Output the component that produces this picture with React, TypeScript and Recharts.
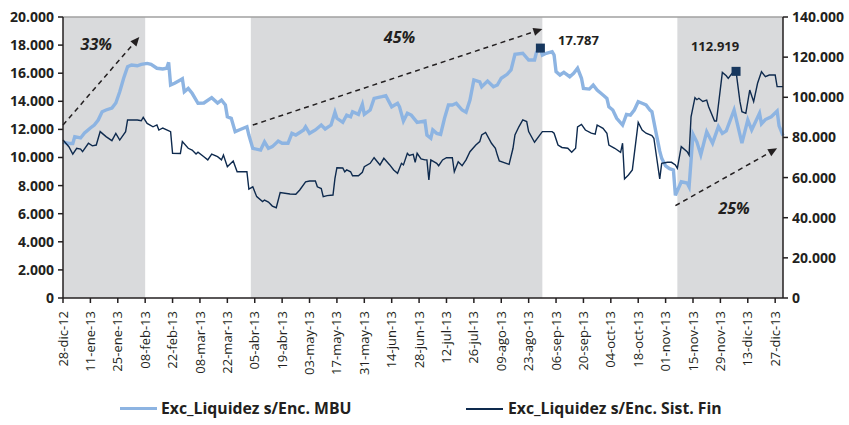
import {
  LineChart,
  Line,
  XAxis,
  YAxis,
  ReferenceArea,
  ReferenceLine,
  ReferenceDot,
} from "recharts";

// días desde 28-dic-12
const tickDays = [0, 14, 28, 42, 56, 70, 84, 98, 112, 126, 140, 154, 168, 182, 196, 210, 224, 238, 252, 266, 280, 294, 308, 322, 336, 350, 364];
const tickLabels = [
  "28-dic-12", "11-ene-13", "25-ene-13", "08-feb-13", "22-feb-13", "08-mar-13", "22-mar-13",
  "05-abr-13", "19-abr-13", "03-may-13", "17-may-13", "31-may-13", "14-jun-13", "28-jun-13",
  "12-jul-13", "26-jul-13", "09-ago-13", "23-ago-13", "06-sep-13", "20-sep-13", "04-oct-13",
  "18-oct-13", "01-nov-13", "15-nov-13", "29-nov-13", "13-dic-13", "27-dic-13",
];
const leftTicks = [0, 2000, 4000, 6000, 8000, 10000, 12000, 14000, 16000, 18000, 20000];
const rightTicks = [0, 20000, 40000, 60000, 80000, 100000, 120000, 140000];

// Exc_Liquidez s/Enc. MBU (eje izq.)
const mbuDays = [
  0, 3, 5, 6, 9, 11, 14, 16, 18, 20, 22, 25, 27, 29, 31, 33, 35, 38, 40, 43, 45, 48, 51, 53, 54, 55, 57, 60, 61, 62,
  64, 66, 69, 72, 76, 79, 81, 83, 84, 86, 88, 90, 94, 95, 97, 101, 103, 105, 107, 110, 112, 115, 117, 119, 123, 124,
  126, 129, 132, 134, 137, 139, 140, 143, 145, 147, 148, 151, 153, 154, 157, 159, 163, 165, 168, 171, 172, 174, 176,
  178, 181, 185, 186, 188, 189, 191, 193, 195, 197, 199, 201, 204, 206, 208, 210, 213, 214, 217, 220, 222, 224, 227,
  229, 231, 235, 238, 241, 242, 244, 245, 247, 250, 251, 252, 254, 256, 259, 261, 263, 265, 266, 269, 271, 273, 276,
  278, 279, 281, 283, 286, 288, 290, 292, 294, 296, 298, 300, 301, 303, 305, 306, 308, 310, 312, 313, 316, 319, 320,
  322, 324, 326, 329, 332, 335, 337, 339, 343, 347, 350, 352, 356, 357, 359, 362, 365, 366, 368,
];
const mbuValues = [
  11100, 11000, 11000, 11480, 11390, 11740, 12100, 12310, 12670, 13260, 13380, 13520, 13880, 14680, 15640, 16460,
  16580, 16530, 16630, 16700, 16630, 16350, 16300, 16350, 16770, 15160, 15280, 15520, 15600, 14680,
  14920, 14570, 13860, 13880, 14260, 13880, 14090, 13740, 12900, 12790, 11840, 11960, 12190, 11600, 10650, 10530,
  11120, 10650, 10770, 11170, 11010, 11010, 11720, 11600, 11960, 12190,
  11720, 11960, 12310, 12030, 12310, 13220, 12790, 12500, 13020, 12900, 13260, 13070, 13780, 13070, 13380, 14210,
  14330, 14400, 13610, 13860, 13610, 12600, 13150,
  13020, 12500, 12600, 11600, 11370, 11960, 11720, 11650, 12790, 13740, 13740, 13860, 13380, 13220, 14090, 15520,
  15390, 15040, 15440, 15040, 15160, 15640, 15920,
  16230, 17340, 17420, 16940, 16940, 17490, 17787, 17290, 17420, 17530, 17290, 16110, 15870, 16060, 15750, 15990,
  16350, 15640, 14920, 14870, 15160, 14800, 14450,
  14210, 13610, 13380, 12790, 12310, 13070, 13020, 13380, 13970, 13860, 13740, 13380, 13260, 11840, 10450, 9940,
  9400, 9200, 9110, 7300, 8270, 8180, 7910,
  11650, 11100, 10200, 11830, 11020, 12200, 11720, 11900, 13380, 11020, 12670, 11960, 13150, 12400, 12700, 12900,
  13300, 12250, 11550,
];

// Exc_Liquidez s/Enc. Sist. Fin (eje der.)
const finDays = [
  0, 3, 5, 7, 9, 10, 13, 15, 17, 19, 22, 25, 27, 29, 32, 33, 38, 40, 41, 43, 46, 48, 49, 51, 55, 56, 60, 61, 64, 66,
  68, 69, 72, 74, 76, 79, 81, 82, 84, 87, 89, 94, 95, 97, 99, 102, 103, 105, 107, 109, 111, 116, 119, 121, 124, 126,
  129, 130, 132, 133, 135, 138, 139, 140, 143, 144, 145, 147, 148, 151, 153, 154, 157, 159, 162, 164, 167, 169, 171,
  173, 174, 176, 177, 179, 180, 181, 183, 185, 186, 187, 188, 191, 192, 194, 196, 199, 200, 202, 204, 206, 208, 211,
  213, 214, 216, 219, 221, 222, 223, 228, 230, 231, 233, 235, 237, 238, 241, 245, 250, 251, 253, 255, 258, 260, 262,
  263, 265, 267, 270, 272, 273, 276, 278, 279, 282, 285, 286, 287, 289, 291, 294, 296, 298, 301, 302, 305, 306, 309,
  311, 313, 314, 316, 319, 320, 321, 323, 324, 325, 327, 329, 330, 333, 334, 337, 339, 340, 342, 344, 346, 347, 349,
  351, 353, 355, 357, 359, 361, 364, 365, 368,
];
const finValues = [
  78700, 75400, 71700, 74600, 74200, 72900, 77100, 75800, 76200, 82900, 80400, 78400, 82000, 78700, 82900, 88700,
  88700, 88300, 90000, 87000, 85300, 86200, 83700, 84700, 82900, 72100, 72000, 77900, 74600, 73700,
  71700, 72600, 70400, 68800, 71700, 70400, 68800, 71200, 65400, 68300, 62900, 62900, 54300, 55400, 50500, 48000,
  48800, 47800, 45800, 45000, 52500, 51800, 51700, 53800, 57900, 58300,
  58300, 55400, 54500, 50500, 51000, 51300, 59600, 64900, 64800, 62900, 63800, 62900, 60900, 60900, 62600, 65400,
  67100, 69900, 66300, 69600, 66300, 63800, 62100,
  67100, 66300, 72100, 71000, 71600, 67600, 72100, 69300, 68800, 68800, 58800, 68800, 67100, 65900, 68800, 69900,
  69900, 62900, 67900, 65900, 68800, 72900, 76200,
  77900, 81200, 82500, 77100, 74600, 71200, 68300, 66600, 74600, 81200, 85300, 88700, 87900, 82900, 77600, 82900,
  82900, 82100, 76200, 75000, 74600, 72600, 74600,
  85300, 86500, 83700, 82100, 81600, 86200, 84500, 82100, 76200, 74600, 72600, 77100, 59300, 61300, 63800, 87500,
  83700, 82100, 80900, 79600, 59300, 67100, 67600,
  67600, 66300, 64600, 75400, 72900, 71200, 90300, 99800, 98800, 99500, 97900, 98600, 95300, 88200, 88200, 112400,
  110700, 109400, 111900, 112919, 97800, 92800, 92000,
  103600, 97800, 107000, 112700, 110300, 111100, 111100, 105300, 105300,
];

// periodos sombreados
const shadeStart = [0, 96, 314];
const shadeEnd = [42, 245, 368];

// flechas de variación
const arrowFromDay = [0, 97, 313];
const arrowFromValue = [12310, 12310, 6570];
const arrowToDay = [39, 245, 365];
const arrowToValue = [18575, 19145, 10650];
const arrowLabels = ["33%", "45%", "25%"];
const arrowLabelDay = [17, 172, 343];
const arrowLabelValue = [18080, 18575, 6405];

const mbuData = mbuDays.map((d, i) => ({ day: d, value: mbuValues[i] }));
const finData = finDays.map((d, i) => ({ day: d, value: finValues[i] }));

const LIGHT = "#8db4e2";
const DARK = "#0e2a4e";
const SHADE = "#d9dadc";
const INK = "#231f20";
const FONT = "'Open Sans', sans-serif";

const fmt = (v: number) => v.toLocaleString("de-DE");

const XTick = ({ x, y, payload }: any) => {
  const idx = tickDays.indexOf(payload.value);
  return (
    <text
      x={x}
      y={y + 2}
      transform={`rotate(-90, ${x}, ${y + 2})`}
      textAnchor="end"
      dy="0.35em"
      fontSize={13}
      fontFamily={FONT}
      fill={INK}>
      {tickLabels[idx]}
    </text>
  );
};

const arrowShape = (props: any) => {
  const { x1, y1, x2, y2 } = props;
  const ang = Math.atan2(y2 - y1, x2 - x1);
  const len = 9;
  const w = 4;
  const bx = x2 - len * Math.cos(ang);
  const by = y2 - len * Math.sin(ang);
  const px = -Math.sin(ang) * w;
  const py = Math.cos(ang) * w;
  return (
    <g>
      <line x1={x1} y1={y1} x2={bx} y2={by} stroke={INK} strokeWidth={1.5} strokeDasharray="5 4" />
      <polygon points={`${x2},${y2} ${bx + px},${by + py} ${bx - px},${by - py}`} fill={INK} />
    </g>
  );
};

const peakShape = (label: string, dx: number, dy: number) => (props: any) => {
  const { cx, cy } = props;
  return (
    <g>
      <rect x={cx - 4.5} y={cy - 4.5} width={9} height={9} fill="#17375e" />
      <text x={cx + dx} y={cy + dy} textAnchor="middle" dy="0.35em" fontSize={13} fontWeight={700} fontFamily={FONT} fill={INK}>
        {label}
      </text>
    </g>
  );
};

const textShape = (label: string) => (props: any) => (
  <text x={props.cx} y={props.cy} textAnchor="middle" dy="0.35em" fontSize={16} fontWeight={700} fontStyle="italic" fontFamily={FONT} fill={INK}>
    {label}
  </text>
);

export default function App() {
  const tickStyle = { fontSize: 14, fontWeight: 700, fill: INK, fontFamily: FONT };
  return (
    <div style={{ position: "absolute", left: 0, top: 0, width: 849, height: 425, background: "#fff" }}>
      <LineChart width={849} height={425} margin={{ top: 17, right: 0, bottom: 57, left: 0 }}>
        <XAxis
          dataKey="day"
          type="number"
          domain={[0, 368]}
          ticks={tickDays}
          interval={0}
          tick={<XTick />}
          height={70}
          tickSize={5}
          tickMargin={6}
          stroke={INK}
          strokeWidth={1.5}
          allowDuplicatedCategory={false}
        />
        <YAxis
          yAxisId="left"
          domain={[0, 20000]}
          ticks={leftTicks}
          interval={0}
          tickFormatter={fmt}
          tick={tickStyle}
          width={63}
          tickSize={5}
          tickMargin={4}
          stroke={INK}
          strokeWidth={1.5}
        />
        <YAxis
          yAxisId="right"
          orientation="right"
          domain={[0, 140000]}
          ticks={rightTicks}
          interval={0}
          tickFormatter={fmt}
          tick={{ ...tickStyle, textAnchor: "start" }}
          width={66}
          tickSize={5}
          tickMargin={4}
          stroke={INK}
          strokeWidth={1.5}
        />
        {shadeStart.map((s, i) => (
          <ReferenceArea key={i} yAxisId="left" x1={s} x2={shadeEnd[i]} y1={0} y2={20000} fill={SHADE} fillOpacity={1} stroke="none" />
        ))}
        <ReferenceLine yAxisId="left" y={20000} stroke="#a0a0a0" strokeWidth={1.5} />
        {arrowLabels.map((lab, i) => (
          <ReferenceLine
            key={lab}
            yAxisId="left"
            segment={[
              { x: arrowFromDay[i], y: arrowFromValue[i] },
              { x: arrowToDay[i], y: arrowToValue[i] },
            ]}
            shape={arrowShape}
          />
        ))}
        {arrowLabels.map((lab, i) => (
          <ReferenceDot key={lab} yAxisId="left" x={arrowLabelDay[i]} y={arrowLabelValue[i]} r={0} shape={textShape(lab)} />
        ))}
        <Line
          yAxisId="left"
          data={mbuData}
          dataKey="value"
          stroke={LIGHT}
          strokeWidth={3.4}
          dot={false}
          type="linear"
          isAnimationActive={false}
        />
        <Line
          yAxisId="right"
          data={finData}
          dataKey="value"
          stroke={DARK}
          strokeWidth={1.4}
          dot={false}
          type="linear"
          isAnimationActive={false}
        />
        <ReferenceDot yAxisId="left" x={244} y={17787} r={0} shape={peakShape(fmt(17787), 38, -8)} />
        <ReferenceDot yAxisId="right" x={344} y={112919} r={0} shape={peakShape(fmt(112919), -21, -25)} />
      </LineChart>
      <div style={{ position: "absolute", left: 120, top: 407, width: 37, height: 3, background: LIGHT }} />
      <div style={{ position: "absolute", left: 161, top: 397, fontFamily: FONT, fontWeight: 700, fontSize: 15.8, color: INK, whiteSpace: "nowrap" }}>
        Exc_Liquidez s/Enc. MBU
      </div>
      <div style={{ position: "absolute", left: 466, top: 408, width: 37, height: 2, background: DARK }} />
      <div style={{ position: "absolute", left: 508, top: 397, fontFamily: FONT, fontWeight: 700, fontSize: 15.8, color: INK, whiteSpace: "nowrap" }}>
        Exc_Liquidez s/Enc. Sist. Fin
      </div>
    </div>
  );
}
